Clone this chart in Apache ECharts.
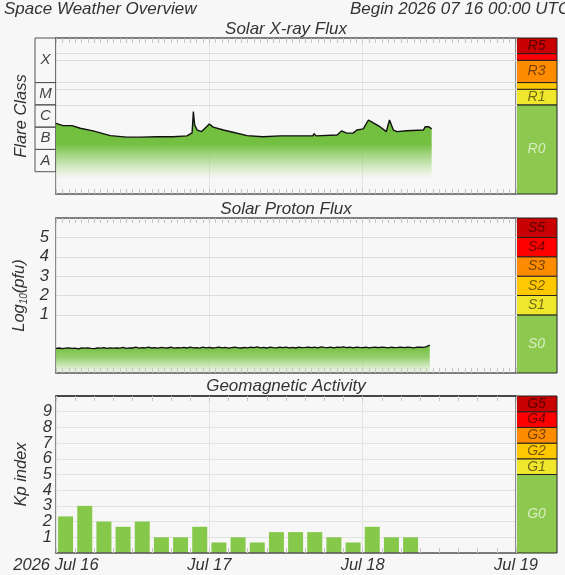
<!DOCTYPE html>
<html>
<head>
<meta charset="utf-8">
<script src="https://cdn.jsdelivr.net/npm/echarts@6/dist/echarts.min.js"></script>
<style>
  html, body { margin: 0; padding: 0; background: #f7f7f7; }
  #chart { width: 565px; height: 575px; }
</style>
</head>
<body>
<div id="chart"></div>
<script>
// x axis is hours since 2026-07-16 00:00 UTC
const dayLabels = ['2026 Jul 16', 'Jul 17', 'Jul 18', 'Jul 19']

// GOES X-ray flux, log10(W/m2)
const xrayHours = [0, 0.3, 1.1, 2.5, 3.8, 5.8, 8.5, 11.1, 13.2, 15.8, 18.3, 20.5, 21.3, 21.5, 21.7,
  22.1, 22.8, 24.0, 24.6, 26.2, 27.7, 29.9, 32.4, 35.1, 40.2, 40.4, 40.7, 44.0, 44.7, 45.5,
  46.5, 47.1, 48.1, 48.9, 49.6, 50.7, 51.7, 52.2, 52.8, 53.4, 54.9, 57.5, 57.8, 58.3, 58.8]
const xrayLog = [-5.83, -5.90, -5.93, -5.93, -6.05, -6.17, -6.38, -6.45, -6.45, -6.43, -6.43, -6.39, -6.26, -5.30, -5.90,
  -6.13, -6.20, -5.86, -6.00, -6.13, -6.23, -6.38, -6.43, -6.39, -6.39, -6.29, -6.39, -6.35, -6.17, -6.27,
  -6.27, -6.13, -6.08, -5.68, -5.80, -5.98, -6.20, -5.68, -6.13, -6.20, -6.16, -6.13, -5.98, -5.98, -6.08]

// proton flux, log10(pfu), half-hour samples from 00:00
const protonStepHours = 0.5
const protonLog = [
  -0.73, -0.71, -0.74, -0.72, -0.70, -0.73, -0.72, -0.75, -0.71, -0.72, -0.70, -0.73, -0.74, -0.71, -0.72, -0.69, -0.73, -0.71, -0.72, -0.70,
  -0.72, -0.68, -0.73, -0.70, -0.71, -0.67, -0.72, -0.69, -0.70, -0.66, -0.71, -0.69, -0.72, -0.68, -0.70, -0.71, -0.67, -0.72, -0.69, -0.70,
  -0.68, -0.71, -0.66, -0.70, -0.69, -0.72, -0.67, -0.70, -0.68, -0.71, -0.69, -0.66, -0.70, -0.68, -0.72, -0.69, -0.67, -0.70, -0.71, -0.68,
  -0.70, -0.67, -0.69, -0.65, -0.70, -0.68, -0.71, -0.66, -0.69, -0.70, -0.67, -0.69, -0.66, -0.70, -0.68, -0.71, -0.67, -0.69, -0.68, -0.66,
  -0.69, -0.67, -0.70, -0.65, -0.68, -0.69, -0.66, -0.70, -0.67, -0.68, -0.65, -0.69, -0.67, -0.70, -0.66, -0.68, -0.69, -0.67, -0.70, -0.68,
  -0.67, -0.69, -0.66, -0.68, -0.70, -0.67, -0.69, -0.68, -0.66, -0.69, -0.67, -0.68, -0.70, -0.67, -0.66, -0.68, -0.64, -0.56]

// planetary Kp, 3-hour bins from 00:00
const kpBinHours = 3
const kpValues = [2.33, 3, 2, 1.67, 2, 1, 1, 1.67, 0.67, 1, 0.67, 1.33, 1.33, 1.33, 1, 0.67, 1.67, 1, 1]

// NOAA scales
const flareClasses = ['A', 'B', 'C', 'M', 'X']
const flareEdges = [-8, -7, -6, -5, -4, -2]
const rNames = ['R0', 'R1', 'R2', 'R3', 'R4', 'R5']
const rEdges = [-9, -5, -4.3, -4, -3, -2.7, -2]
const sNames = ['S0', 'S1', 'S2', 'S3', 'S4', 'S5']
const sEdges = [-2, 1, 2, 3, 4, 5, 6]
const gNames = ['G0', 'G1', 'G2', 'G3', 'G4', 'G5']
const gEdges = [0, 5, 6, 7, 8, 9, 10]

const scaleColors = ['#8dc94e', '#f0e62c', '#ffc800', '#ff8c00', '#ff0000', '#c80000']
const font = 'Liberation Sans'
const txt = { fontFamily: font, fontStyle: 'italic', fontWeight: 'normal', color: '#333' }

const chart = echarts.init(document.getElementById('chart'))

const levelBox = (names, colors) => (params, api) => {
  const p0 = api.coord([0, api.value(2)])
  const p1 = api.coord([1, api.value(1)])
  const h = p1[1] - p0[1]
  const i = params.dataIndex
  return {
    type: 'rect',
    shape: { x: p0[0], y: p0[1], width: p1[0] - p0[0], height: h },
    style: { fill: colors ? colors[i] : 'rgba(0,0,0,0)', stroke: colors ? '#222' : '#555', lineWidth: 1 },
    textContent: {
      style: {
        text: h >= 12 ? names[i] : '',
        fill: !colors ? '#444' : i === 0 ? 'rgba(255,255,255,0.65)' : 'rgba(0,0,0,0.55)',
        fontFamily: font, fontStyle: 'italic', fontSize: colors ? 14 : 15,
      },
    },
    textConfig: { position: 'inside' },
  }
}

const levelData = (names, edges) => names.map((n, i) => [0, edges[i], edges[i + 1]])

const timeAxis = (gridIndex, position, split, opts = {}) => ({
  gridIndex,
  type: 'value',
  position,
  min: 0,
  max: 72,
  interval: 24,
  z: 3,
  axisLine: { show: true, onZero: false, lineStyle: { color: opts.lineColor || '#555', width: 1.5 } },
  axisTick: { show: true, inside: true, length: 5, lineStyle: { color: '#c4c4c4' } },
  minorTick: { show: true, splitNumber: split, length: 5, lineStyle: { color: '#c4c4c4' } },
  splitLine: { show: position === 'bottom', lineStyle: { color: '#e4e4e4' } },
  axisLabel: opts.labels
    ? { ...txt, fontSize: 16.5, margin: 4, showMinLabel: true, showMaxLabel: true, formatter: (v) => dayLabels[Math.round(v / 24)] }
    : { show: false },
})

const hiddenX = (gridIndex) => ({ gridIndex, type: 'value', min: 0, max: 1, show: false })
const hiddenY = (gridIndex, edges) => ({ gridIndex, type: 'value', min: edges[0], max: edges[edges.length - 1], show: false })

const yName = (name, rich) => ({
  name,
  nameLocation: 'middle',
  nameGap: 26,
  nameTextStyle: { ...txt, fontSize: 16.5, rich },
})

const leftLine = { show: true, onZero: false, lineStyle: { color: '#666', width: 1.5 } }
const grids = [
  { left: 56, top: 38, width: 460, height: 156 },
  { left: 516, top: 38, width: 41, height: 156 },
  { left: 35, top: 38, width: 21, height: 156 },
  { left: 56, top: 218, width: 460, height: 155 },
  { left: 516, top: 218, width: 41, height: 155 },
  { left: 56, top: 396, width: 460, height: 157 },
  { left: 516, top: 396, width: 41, height: 157 },
]

const fade = (stops) => new echarts.graphic.LinearGradient(0, 0, 0, 1, stops)
const titleStyle = { ...txt, fontSize: 17 }

chart.setOption({
  animation: false,
  backgroundColor: '#f7f7f7',
  title: [
    { text: 'Space Weather Overview', left: 4, top: 1, padding: 0, textStyle: titleStyle },
    { text: 'Begin 2026 07 16 00:00 UTC', left: 350, top: 1, padding: 0, textStyle: titleStyle },
    { text: 'Solar X-ray Flux', left: 286, textAlign: 'center', top: 21, padding: 0, textStyle: titleStyle },
    { text: 'Solar Proton Flux', left: 286, textAlign: 'center', top: 201, padding: 0, textStyle: titleStyle },
    { text: 'Geomagnetic Activity', left: 286, textAlign: 'center', top: 378, padding: 0, textStyle: titleStyle },
  ],
  grid: grids,
  xAxis: [
    timeAxis(0, 'bottom', 24),
    timeAxis(0, 'top', 24, { lineColor: '#555' }),
    hiddenX(1),
    hiddenX(2),
    timeAxis(3, 'bottom', 24),
    timeAxis(3, 'top', 24, { lineColor: '#555' }),
    hiddenX(4),
    timeAxis(5, 'bottom', 8, { labels: true }),
    timeAxis(5, 'top', 8, { lineColor: '#111' }),
    hiddenX(6),
  ],
  yAxis: [
    {
      gridIndex: 0, type: 'value', min: -9, max: -2,
      ...yName('Flare Class'),
      axisLine: leftLine, axisTick: { show: false }, axisLabel: { show: false }, splitLine: { show: false },
    },
    hiddenY(1, rEdges),
    hiddenY(2, [-9, -2]),
    {
      gridIndex: 3, type: 'value', min: -2, max: 6, interval: 1,
      ...yName('{a|Log}{b|10}{a|(pfu)}', {
        a: { ...txt, fontSize: 16.5, lineHeight: 20 },
        b: { ...txt, fontSize: 10, lineHeight: 10, verticalAlign: 'bottom' },
      }),
      axisLine: leftLine, axisTick: { show: false }, splitLine: { show: false },
      axisLabel: { ...txt, fontSize: 16.5, margin: 7, padding: [6, 0, 0, 0], formatter: (v) => (v >= 1 && v <= 5 ? String(v) : '') },
    },
    hiddenY(4, sEdges),
    {
      gridIndex: 5, type: 'value', min: 0, max: 10, interval: 1,
      ...yName('Kp index'),
      axisLine: leftLine, axisTick: { show: false },
      splitLine: { show: true, lineStyle: { color: '#e2e2e2' } },
      axisLabel: { ...txt, fontSize: 16.5, margin: 4, padding: [6, 0, 0, 0], formatter: (v) => (v >= 1 && v <= 9 ? String(v) : '') },
    },
    hiddenY(6, gEdges),
  ],
  series: [
    {
      type: 'line',
      xAxisIndex: 0, yAxisIndex: 0,
      data: xrayHours.map((h, i) => [h, xrayLog[i]]),
      symbol: 'none',
      lineStyle: { color: '#111', width: 1.4 },
      areaStyle: {
        origin: 'start',
        opacity: 1,
        color: fade([
          { offset: 0, color: 'rgba(112,190,60,1)' },
          { offset: 0.4, color: 'rgba(116,192,66,1)' },
          { offset: 0.62, color: 'rgba(140,205,95,0.5)' },
          { offset: 0.82, color: 'rgba(175,222,140,0)' },
        ]),
      },
      markLine: {
        silent: true, symbol: 'none', label: { show: false },
        lineStyle: { color: '#dcdcdc', width: 1, type: 'solid' },
        data: rEdges.slice(1, -1).map((v) => ({ yAxis: v })),
      },
    },
    {
      type: 'custom', xAxisIndex: 2, yAxisIndex: 1, clip: false,
      encode: { x: 0, y: [1, 2] },
      renderItem: levelBox(rNames, scaleColors),
      data: levelData(rNames, rEdges),
    },
    {
      type: 'custom', xAxisIndex: 3, yAxisIndex: 2, clip: false,
      encode: { x: 0, y: [1, 2] },
      renderItem: levelBox(flareClasses, null),
      data: levelData(flareClasses, flareEdges),
    },
    {
      type: 'line',
      xAxisIndex: 4, yAxisIndex: 3,
      data: protonLog.map((v, i) => [i * protonStepHours, v]),
      symbol: 'none',
      lineStyle: { color: '#111', width: 1.3 },
      areaStyle: {
        origin: 'start',
        opacity: 1,
        color: fade([
          { offset: 0, color: 'rgba(112,190,60,1)' },
          { offset: 0.45, color: 'rgba(125,197,75,0.8)' },
          { offset: 1, color: 'rgba(175,222,140,0.12)' },
        ]),
      },
      markLine: {
        silent: true, symbol: 'none', label: { show: false },
        lineStyle: { color: '#dcdcdc', width: 1, type: 'solid' },
        data: sEdges.slice(1, -1).map((v) => ({ yAxis: v })),
      },
    },
    {
      type: 'custom', xAxisIndex: 6, yAxisIndex: 4, clip: false,
      encode: { x: 0, y: [1, 2] },
      renderItem: levelBox(sNames, scaleColors),
      data: levelData(sNames, sEdges),
    },
    {
      type: 'bar',
      xAxisIndex: 7, yAxisIndex: 5,
      data: kpValues.map((v, i) => [i * kpBinHours + kpBinHours / 2, v]),
      barWidth: 15,
      itemStyle: { color: '#86c84a' },
    },
    {
      type: 'custom', xAxisIndex: 9, yAxisIndex: 6, clip: false,
      encode: { x: 0, y: [1, 2] },
      renderItem: levelBox(gNames, scaleColors),
      data: levelData(gNames, gEdges),
    },
  ],
})

window.addEventListener('resize', () => chart.resize())
</script>
</body>
</html>
